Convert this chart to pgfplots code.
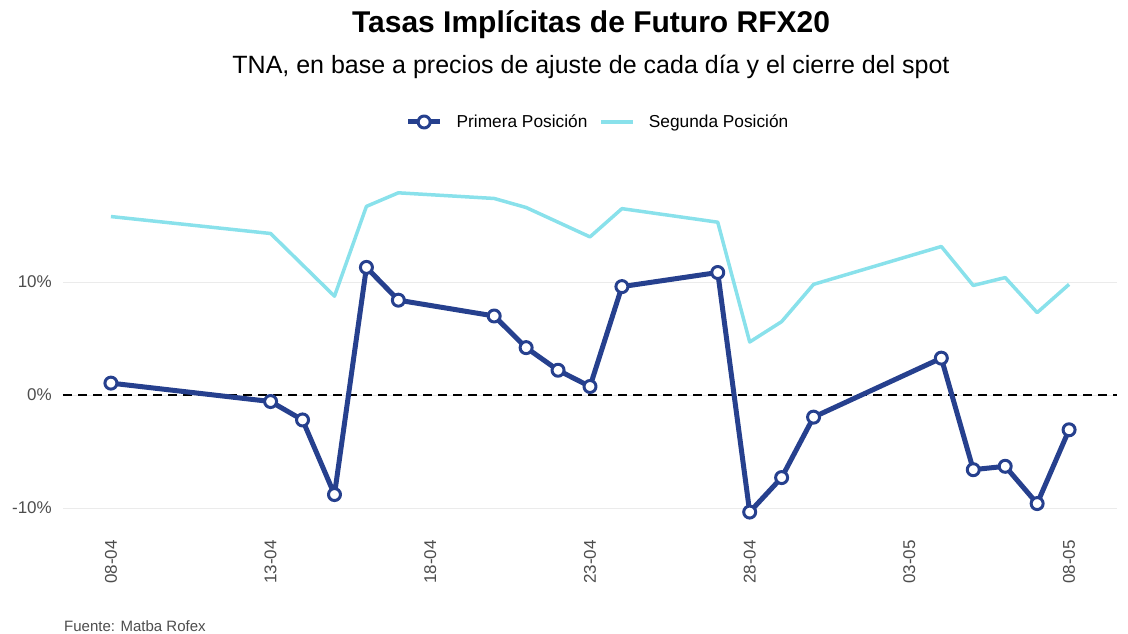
\documentclass[border=0pt]{standalone}
\usepackage{fontspec}
\setmainfont{Liberation Sans}
\usepackage{pgfplots}
\pgfplotsset{compat=1.18}
\definecolor{prim}{RGB}{38,64,142}
\definecolor{segu}{RGB}{137,225,235}
\definecolor{gridc}{RGB}{235,235,235}
\definecolor{txtg}{RGB}{77,77,77}
\begin{document}
\begin{tikzpicture}
\useasboundingbox (0,0) rectangle (1128bp,634bp);
\begin{axis}[
  at={(63bp,106bp)}, anchor=south west,
  scale only axis, width=1054bp, height=351bp,
  xmin=-1.5, xmax=31.5, ymin=-11.76, ymax=19.3,
  clip=false,
  axis line style={draw=none},
  major tick length=0pt, tick style={draw=none},
  ymajorgrids, grid style={gridc, line width=1bp},
  ytick={-10,0,10},
  yticklabels={{-10\%},{0\%},{10\%}},
  xtick={0,5,10,15,20,25,30},
  xticklabels={08-04,13-04,18-04,23-04,28-04,03-05,08-05},
  x tick label style={rotate=90, anchor=east, inner sep=0pt, font=\fontsize{17bp}{20bp}\selectfont, text=txtg},
  xticklabel shift=12bp,
  y tick label style={anchor=east, inner sep=0pt, font=\fontsize{17bp}{20bp}\selectfont, text=txtg},
  yticklabel shift=11bp,
  legend columns=2,
  legend style={at={(0.5076,1.1567)}, anchor=center, draw=none, fill=none,
    font=\fontsize{17.3bp}{20bp}\selectfont, column sep=0bp,
    /tikz/every odd column/.append style={column sep=12bp},
    /tikz/every even column/.append style={column sep=10bp}},
  legend cell align=left,
]
\addplot[black, line width=2bp, dash pattern=on 9bp off 6bp, forget plot] coordinates {(-1.5,0) (31.5,0)};
\addplot[prim, line width=5bp, line join=round, mark=*, mark size=6bp,
  mark options={fill=white, draw=prim, line width=3bp},
  legend image code/.code={\draw[prim, line width=5bp] (0bp,0bp) -- (32bp,0bp); \draw[fill=white, draw=prim, line width=3bp] (16bp,0bp) circle (6bp);}] coordinates {
(0,1.06) (5,-0.57) (6,-2.2) (7,-8.8) (8,11.3) (9,8.4) (12,7.0) (13,4.2) (14,2.2) (15,0.76) (16,9.6) (19,10.85) (20,-10.35) (21,-7.3) (22,-1.95) (26,3.27) (27,-6.6) (28,-6.3) (29,-9.6) (30,-3.07)
};
\addplot[segu, line width=3.5bp, line join=round,
  legend image code/.code={\draw[segu, line width=3.5bp] (0bp,0bp) -- (32bp,0bp);}] coordinates {
(0,15.8) (5,14.3) (7,8.75) (8,16.7) (9,17.9) (12,17.4) (13,16.6) (15,14.0) (16,16.5) (19,15.3) (20,4.7) (21,6.5) (22,9.8) (26,13.15) (27,9.7) (28,10.4) (29,7.3) (30,9.8)
};
\legend{Primera Posición, Segunda Posición}
\end{axis}
\node[anchor=center, font=\bfseries\fontsize{30bp}{34bp}\selectfont] at (591bp,609bp) {Tasas Implícitas de Futuro RFX20};
\node[anchor=center, font=\fontsize{25bp}{29bp}\selectfont] at (591bp,567bp) {TNA, en base a precios de ajuste de cada día y el cierre del spot};
\node[anchor=west, inner sep=0pt, text=txtg, font=\fontsize{15bp}{17bp}\selectfont] at (64bp,8bp) {Fuente: Matba Rofex};
\end{tikzpicture}
\end{document}
